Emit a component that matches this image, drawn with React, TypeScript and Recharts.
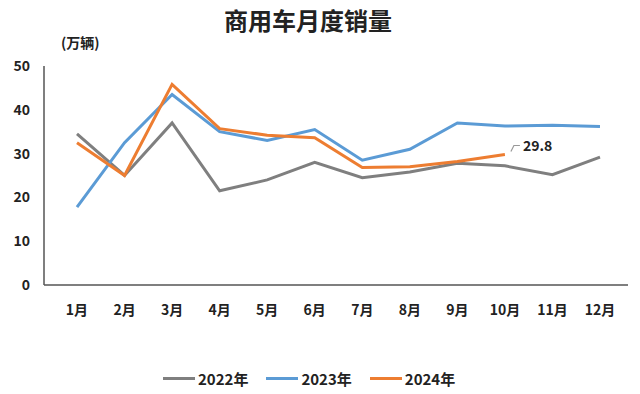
import React from 'react';
import { LineChart, Line, XAxis, YAxis, Legend, LabelList } from 'recharts';

const months = ['1月', '2月', '3月', '4月', '5月', '6月', '7月', '8月', '9月', '10月', '11月', '12月'];
const sales2022 = [34.5, 25, 37, 21.5, 24, 28, 24.5, 25.8, 27.8, 27.2, 25.2, 29.2];
const sales2023 = [17.8, 32.5, 43.5, 35, 33, 35.5, 28.5, 31, 37, 36.3, 36.5, 36.2];
const sales2024: (number | null)[] = [32.5, 25, 45.8, 35.7, 34.2, 33.6, 26.8, 27, 28.2, 29.8, null, null];
const yTicks = [0, 10, 20, 30, 40, 50];
const seriesNames = ['2022年', '2023年', '2024年'];
const seriesColors = ['#7f7f7f', '#5b9bd5', '#ed7d31'];

const data = months.map((m, i) => ({
  month: m,
  s2022: sales2022[i],
  s2023: sales2023[i],
  s2024: sales2024[i],
}));

const FONT = '"Noto Sans CJK SC", "Noto Sans", sans-serif';

const LastLabel = (props: any) => {
  const { x, y, value, index } = props;
  if (index !== 9 || value == null) return null;
  return (
    <g>
      <path d={`M${x + 6},${y - 3} L${x + 9},${y - 9} L${x + 15},${y - 9}`} stroke="#999" strokeWidth={1.2} fill="none" />
      <text x={x + 18} y={y - 3} fontFamily={FONT} fontSize={14} fontWeight={700} fill="#222">
        {value}
      </text>
    </g>
  );
};

const renderLegend = () => (
  <div style={{ display: 'flex', justifyContent: 'flex-start', paddingLeft: 163, fontFamily: FONT, fontWeight: 700, fontSize: 15, color: '#222' }}>
    {seriesNames.map((n, i) => (
      <div key={n} style={{ display: 'flex', alignItems: 'center', marginRight: i < 2 ? 18 : 0 }}>
        <span style={{ display: 'inline-block', width: 32, height: 3, background: seriesColors[i], marginRight: 3 }} />
        <span>{n}</span>
      </div>
    ))}
  </div>
);

export default function App() {
  return (
    <div style={{ position: 'absolute', left: 0, top: 0, width: 640, height: 394, background: '#fff' }}>
      <div style={{ position: 'absolute', left: 0, top: 2, width: 616, textAlign: 'center', fontFamily: FONT, fontWeight: 700, fontSize: 24, color: '#222' }}>
        商用车月度销量
      </div>
      <div style={{ position: 'absolute', left: 61, top: 32, fontFamily: FONT, fontWeight: 700, fontSize: 14, color: '#222' }}>
        (万辆)
      </div>
      <LineChart width={640} height={394} data={data} margin={{ top: 66, right: 12, bottom: 79, left: 0 }}>
        <XAxis
          dataKey="month"
          axisLine={{ stroke: '#555', strokeWidth: 1.5 }}
          tickLine={false}
          padding={{ left: 33, right: 28 }}
          tick={{ fontFamily: FONT, fontSize: 14, fontWeight: 700, fill: '#222' }}
          tickMargin={14}
          interval={0}
          height={30}
        />
        <YAxis
          domain={[0, 50]}
          ticks={yTicks}
          width={44}
          axisLine={{ stroke: '#555', strokeWidth: 1.5 }}
          tickLine={false}
          tickMargin={8}
          tick={{ fontFamily: FONT, fontSize: 14, fontWeight: 700, fill: '#222' }}
        />
        <Legend verticalAlign="middle" wrapperStyle={{ top: 368, left: 0, width: 640 }} content={renderLegend} />
        <Line dataKey="s2022" name="2022年" stroke={seriesColors[0]} strokeWidth={3} dot={false} isAnimationActive={false} strokeLinejoin="miter" />
        <Line dataKey="s2023" name="2023年" stroke={seriesColors[1]} strokeWidth={3} dot={false} isAnimationActive={false} strokeLinejoin="miter" />
        <Line dataKey="s2024" name="2024年" stroke={seriesColors[2]} strokeWidth={3} dot={false} isAnimationActive={false} strokeLinejoin="miter">
          <LabelList dataKey="s2024" content={LastLabel} />
        </Line>
      </LineChart>
    </div>
  );
}
